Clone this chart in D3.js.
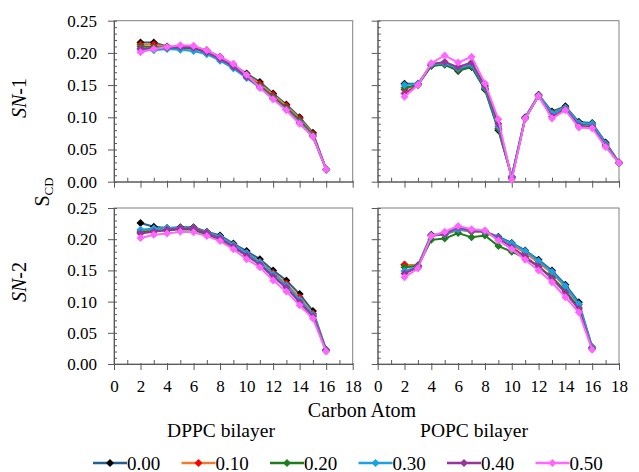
<!DOCTYPE html>
<html>
<head>
<meta charset="utf-8">
<title>SCD order parameters</title>
<style>
  body { margin: 0; background: #fff; }
  svg, svg text { font-family: "Liberation Serif", serif; }
</style>
</head>
<body>
<div id="chart"></div>
<script src="https://d3js.org/d3.v7.min.js"></script>
<script>
// legend labels (mole fraction) and series colours
var seriesNames = ["0.00", "0.10", "0.20", "0.30", "0.40", "0.50"];
var lineColors = ["#255e91", "#ed7d31", "#1e7b1e", "#1ba1e2", "#993399", "#ff66ff"];
var markerColors = ["#000000", "#ff0000", "#1e7b1e", "#1ba1e2", "#993399", "#ff66ff"];

var xTicks = [0, 2, 4, 6, 8, 10, 12, 14, 16, 18];
var yTicks = [0, 0.05, 0.10, 0.15, 0.20, 0.25];

// carbon atoms
var carbonsDPPC = [2, 3, 4, 5, 6, 7, 8, 9, 10, 11, 12, 13, 14, 15, 16];
var carbonsPOPC1 = [2, 3, 4, 5, 6, 7, 8, 9, 10, 11, 12, 13, 14, 15, 16, 17, 18];
var carbonsPOPC2 = [2, 3, 4, 5, 6, 7, 8, 9, 10, 11, 12, 13, 14, 15, 16];

// DPPC sn-1
var dppcSn1 = [
  [0.216, 0.216, 0.210, 0.209, 0.209, 0.204, 0.194, 0.181, 0.168, 0.155, 0.137, 0.120, 0.100, 0.076, 0.019],
  [0.213, 0.213, 0.209, 0.208, 0.208, 0.202, 0.192, 0.179, 0.166, 0.152, 0.135, 0.118, 0.098, 0.074, 0.019],
  [0.210, 0.209, 0.208, 0.207, 0.207, 0.200, 0.190, 0.177, 0.163, 0.149, 0.132, 0.115, 0.095, 0.072, 0.019],
  [0.205, 0.204, 0.206, 0.205, 0.203, 0.198, 0.188, 0.176, 0.161, 0.146, 0.129, 0.112, 0.092, 0.070, 0.019],
  [0.207, 0.207, 0.208, 0.209, 0.208, 0.201, 0.191, 0.179, 0.163, 0.147, 0.129, 0.112, 0.091, 0.070, 0.019],
  [0.201, 0.206, 0.209, 0.212, 0.211, 0.204, 0.194, 0.183, 0.166, 0.146, 0.128, 0.111, 0.090, 0.070, 0.019]
];
// POPC sn-1
var popcSn1 = [
  [0.152, 0.152, 0.180, 0.182, 0.172, 0.178, 0.143, 0.080, 0.008, 0.100, 0.135, 0.109, 0.117, 0.093, 0.091, 0.061, 0.030],
  [0.143, 0.151, 0.181, 0.183, 0.174, 0.180, 0.145, 0.083, 0.007, 0.099, 0.134, 0.107, 0.115, 0.091, 0.089, 0.059, 0.030],
  [0.146, 0.150, 0.180, 0.182, 0.173, 0.179, 0.144, 0.082, 0.007, 0.098, 0.133, 0.106, 0.114, 0.090, 0.088, 0.058, 0.029],
  [0.150, 0.152, 0.182, 0.184, 0.176, 0.182, 0.147, 0.086, 0.008, 0.099, 0.134, 0.106, 0.115, 0.091, 0.090, 0.059, 0.029],
  [0.137, 0.150, 0.183, 0.186, 0.178, 0.185, 0.149, 0.090, 0.005, 0.098, 0.133, 0.101, 0.112, 0.087, 0.085, 0.056, 0.029],
  [0.132, 0.150, 0.184, 0.196, 0.185, 0.194, 0.153, 0.097, 0.003, 0.098, 0.133, 0.098, 0.111, 0.084, 0.083, 0.054, 0.029]
];
// DPPC sn-2
var dppcSn2 = [
  [0.226, 0.220, 0.218, 0.219, 0.219, 0.212, 0.206, 0.193, 0.181, 0.168, 0.150, 0.134, 0.112, 0.085, 0.023],
  [0.213, 0.216, 0.217, 0.218, 0.218, 0.211, 0.204, 0.191, 0.178, 0.164, 0.146, 0.129, 0.107, 0.081, 0.022],
  [0.211, 0.213, 0.214, 0.216, 0.215, 0.207, 0.199, 0.187, 0.174, 0.160, 0.142, 0.125, 0.102, 0.078, 0.022],
  [0.215, 0.217, 0.218, 0.218, 0.218, 0.211, 0.204, 0.191, 0.178, 0.163, 0.144, 0.126, 0.103, 0.079, 0.022],
  [0.209, 0.212, 0.215, 0.217, 0.217, 0.210, 0.201, 0.188, 0.174, 0.159, 0.140, 0.122, 0.099, 0.076, 0.021],
  [0.202, 0.207, 0.209, 0.212, 0.211, 0.205, 0.197, 0.184, 0.168, 0.155, 0.134, 0.116, 0.094, 0.073, 0.020]
];
// POPC sn-2
var popcSn2 = [
  [0.159, 0.158, 0.207, 0.208, 0.216, 0.213, 0.212, 0.204, 0.194, 0.182, 0.167, 0.150, 0.127, 0.099, 0.027],
  [0.159, 0.158, 0.206, 0.207, 0.215, 0.212, 0.211, 0.201, 0.190, 0.178, 0.162, 0.146, 0.123, 0.095, 0.026],
  [0.155, 0.157, 0.199, 0.201, 0.210, 0.203, 0.206, 0.189, 0.180, 0.170, 0.156, 0.139, 0.117, 0.090, 0.025],
  [0.149, 0.156, 0.206, 0.208, 0.216, 0.213, 0.212, 0.203, 0.193, 0.181, 0.165, 0.148, 0.125, 0.096, 0.026],
  [0.145, 0.155, 0.205, 0.209, 0.219, 0.214, 0.213, 0.201, 0.187, 0.172, 0.156, 0.137, 0.114, 0.088, 0.024],
  [0.139, 0.153, 0.205, 0.212, 0.221, 0.216, 0.214, 0.198, 0.184, 0.167, 0.150, 0.131, 0.107, 0.083, 0.023]
];

var FONT = "Liberation Serif";
var W = 639, H = 472;
var svg = d3.select("#chart").append("svg")
  .attr("width", W).attr("height", H)
  .attr("font-family", FONT);

var panels = [
  {x0: 114, x1: 352.7, y0: 20.7, y1: 181.7, xs: carbonsDPPC, data: dppcSn1, yLabels: true, xLabels: false},
  {x0: 377.7, x1: 619, y0: 20.7, y1: 181.7, xs: carbonsPOPC1, data: popcSn1, yLabels: false, xLabels: false},
  {x0: 114, x1: 352.7, y0: 208, y1: 364, xs: carbonsDPPC, data: dppcSn2, yLabels: true, xLabels: true},
  {x0: 377.7, x1: 619, y0: 208, y1: 364, xs: carbonsPOPC2, data: popcSn2, yLabels: false, xLabels: true}
];

function diamond(r) {
  return "M0," + (-r) + "L" + r + ",0L0," + r + "L" + (-r) + ",0Z";
}

panels.forEach(function(p) {
  var x = d3.scaleLinear().domain([0, 18]).range([p.x0, p.x1]);
  var y = d3.scaleLinear().domain([0, 0.25]).range([p.y1, p.y0]);
  var g = svg.append("g");

  // frame
  g.append("rect")
    .attr("x", p.x0).attr("y", p.y0)
    .attr("width", p.x1 - p.x0).attr("height", p.y1 - p.y0)
    .attr("fill", "none").attr("stroke", "#808080").attr("stroke-width", 1);

  // minor ticks, inward
  var yMinor = d3.range(0, 0.2501, 0.01);
  g.append("g").attr("transform", "translate(" + p.x0 + ",0)")
    .call(d3.axisLeft(y).tickValues(yMinor).tickSize(-3).tickFormat("").tickSizeOuter(0))
    .call(function(a) { a.select(".domain").remove(); a.selectAll("line").attr("stroke", "#595959"); });
  g.append("g").attr("transform", "translate(0," + p.y1 + ")")
    .call(d3.axisBottom(x).tickValues(d3.range(1, 18, 2)).tickSize(-4).tickFormat("").tickSizeOuter(0))
    .call(function(a) { a.select(".domain").remove(); a.selectAll("line").attr("stroke", "#595959"); });

  // major axes
  var ya = g.append("g").attr("transform", "translate(" + p.x0 + ",0)")
    .call(d3.axisLeft(y).tickValues(yTicks).tickSize(6).tickPadding(11).tickSizeOuter(0)
      .tickFormat(p.yLabels ? d3.format(".2f") : ""));
  ya.attr("font-family", FONT).attr("font-size", 17);
  ya.select(".domain").attr("stroke", "#595959");
  ya.selectAll("line").attr("stroke", "#595959");
  ya.selectAll("text").attr("fill", "#000");

  var xa = g.append("g").attr("transform", "translate(0," + p.y1 + ")")
    .call(d3.axisBottom(x).tickValues(xTicks).tickSize(6).tickSizeOuter(0)
      .tickFormat(p.xLabels ? d3.format("d") : ""));
  xa.attr("font-family", FONT).attr("font-size", 17);
  xa.select(".domain").attr("stroke", "#595959");
  xa.selectAll("line").attr("stroke", "#595959").attr("y1", -1);
  xa.selectAll("text").attr("y", 28).attr("dy", 0).attr("fill", "#000");

  var line = d3.line()
    .x(function(d, i) { return x(p.xs[i]); })
    .y(function(d) { return y(d); });

  p.data.forEach(function(vals, s) {
    g.append("path")
      .attr("d", line(vals))
      .attr("fill", "none")
      .attr("stroke", lineColors[s])
      .attr("stroke-width", 2);
    g.selectAll(".m" + s).data(vals).enter().append("path")
      .attr("class", "m" + s)
      .attr("d", diamond(4))
      .attr("transform", function(d, i) { return "translate(" + x(p.xs[i]) + "," + y(d) + ")"; })
      .attr("fill", markerColors[s]);
  });
});

// side labels
function sideLabel(cy, num) {
  var t = svg.append("text")
    .attr("transform", "translate(26," + cy + ") rotate(-90)")
    .attr("text-anchor", "middle")
    .attr("font-size", 20);
  t.append("tspan").attr("font-style", "italic").text("SN");
  t.append("tspan").text("-" + num);
}
sideLabel(98, 1);
sideLabel(282, 2);

var sc = svg.append("text")
  .attr("transform", "translate(49,192) rotate(-90)")
  .attr("text-anchor", "middle")
  .attr("font-size", 20);
sc.append("tspan").text("S");
sc.append("tspan").attr("font-size", 13).attr("dy", 4).text("CD");

svg.append("text").attr("x", 362).attr("y", 417).attr("text-anchor", "middle")
  .attr("font-size", 20).text("Carbon Atom");
svg.append("text").attr("x", 221).attr("y", 437).attr("text-anchor", "middle")
  .attr("font-size", 19.5).text("DPPC bilayer");
svg.append("text").attr("x", 474).attr("y", 437).attr("text-anchor", "middle")
  .attr("font-size", 19.5).text("POPC bilayer");

// legend
var legend = svg.append("g");
seriesNames.forEach(function(name, s) {
  var lx = 93 + s * 88.5, ly = 463;
  legend.append("line")
    .attr("x1", lx).attr("x2", lx + 34).attr("y1", ly).attr("y2", ly)
    .attr("stroke", lineColors[s]).attr("stroke-width", 2.5);
  legend.append("path")
    .attr("d", diamond(4))
    .attr("transform", "translate(" + (lx + 17) + "," + ly + ")")
    .attr("fill", markerColors[s]);
  legend.append("text")
    .attr("x", lx + 34).attr("y", ly + 6.5)
    .attr("font-size", 19).text(name);
});
</script>
</body>
</html>
